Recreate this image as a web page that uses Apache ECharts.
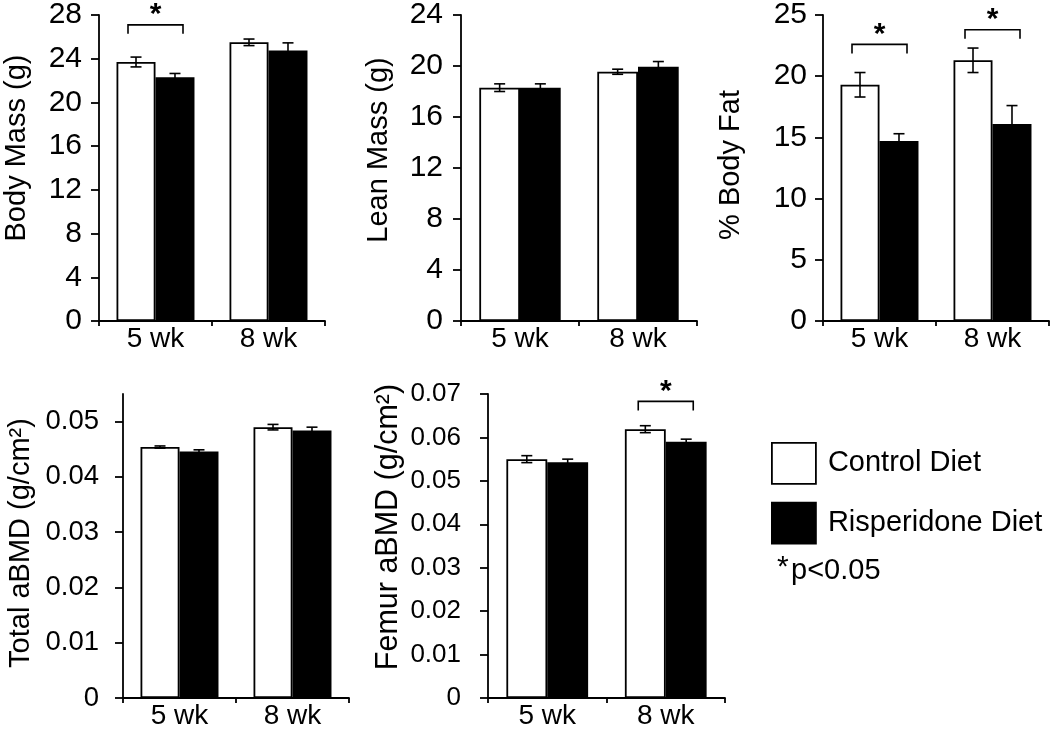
<!DOCTYPE html>
<html>
<head>
<meta charset="utf-8">
<script src="https://cdn.jsdelivr.net/npm/echarts@6/dist/echarts.min.js"></script>
<style>
  html, body { margin: 0; padding: 0; background: #fff; }
  #main { width: 1050px; height: 730px; }
</style>
</head>
<body>
<div id="main"></div>
<script>
// ---- data ----
const weeks = ["5 wk", "8 wk"];

const bodyMassCtrl = [23.7, 25.5];
const bodyMassCtrlErr = [0.45, 0.3];
const bodyMassRisp = [22.3, 24.75];
const bodyMassRispErr = [0.35, 0.7];
const bodyMassSig = [[0, 27.1]];

const leanCtrl = [18.3, 19.55];
const leanCtrlErr = [0.3, 0.2];
const leanRisp = [18.3, 19.95];
const leanRispErr = [0.3, 0.4];
const leanSig = [];

const fatCtrl = [19.3, 21.3];
const fatCtrlErr = [1.0, 1.0];
const fatRisp = [14.7, 16.1];
const fatRispErr = [0.6, 1.5];
const fatSig = [[0, 22.6], [1, 23.8]];

const totalCtrl = [0.0454, 0.0490];
const totalCtrlErr = [0.0002, 0.0005];
const totalRisp = [0.0446, 0.0484];
const totalRispErr = [0.0003, 0.0006];
const totalSig = [];

const femurCtrl = [0.0550, 0.0619];
const femurCtrlErr = [0.0008, 0.0008];
const femurRisp = [0.0543, 0.0590];
const femurRispErr = [0.0007, 0.0006];
const femurSig = [[1, 0.0683]];

const bodyMassTicks = [0, 4, 8, 12, 16, 20, 24, 28];
const leanTicks = [0, 4, 8, 12, 16, 20, 24];
const fatTicks = [0, 5, 10, 15, 20, 25];
const totalTicks = [0, 0.01, 0.02, 0.03, 0.04, 0.05];
const femurTicks = [0, 0.01, 0.02, 0.03, 0.04, 0.05, 0.06, 0.07];

const seriesNames = ["Control Diet", "Risperidone Diet"];

// ---- layout ----
const FONT = "Liberation Sans, Arial, sans-serif";
const BAR_FRAC = 0.345;

const panels = [
  { title: "Body Mass (g)", ctrl: bodyMassCtrl, ctrlErr: bodyMassCtrlErr, risp: bodyMassRisp, rispErr: bodyMassRispErr, sig: bodyMassSig, ticks: bodyMassTicks, max: 28,
    grid: { left: 99, top: 14, width: 226, height: 307 }, nameGap: 68, shift: 20, labelMargin: 17, labelSize: 30, titleSize: 29 },
  { title: "Lean Mass (g)", ctrl: leanCtrl, ctrlErr: leanCtrlErr, risp: leanRisp, rispErr: leanRispErr, sig: leanSig, ticks: leanTicks, max: 24,
    grid: { left: 461, top: 14, width: 236, height: 307 }, nameGap: 68, shift: 18, labelMargin: 18, labelSize: 30, titleSize: 29 },
  { title: "% Body Fat", ctrl: fatCtrl, ctrlErr: fatCtrlErr, risp: fatRisp, rispErr: fatRispErr, sig: fatSig, ticks: fatTicks, max: 25,
    grid: { left: 823, top: 14, width: 226, height: 307 }, nameGap: 78, shift: 3, labelMargin: 16, labelSize: 30, titleSize: 29 },
  { title: "Total aBMD (g/cm²)", ctrl: totalCtrl, ctrlErr: totalCtrlErr, risp: totalRisp, rispErr: totalRispErr, sig: totalSig, ticks: totalTicks, max: 0.055,
    grid: { left: 123, top: 394, width: 226, height: 306 }, nameGap: 88, shift: 3, labelMargin: 24, labelSize: 27.5, titleSize: 29 },
  { title: "Femur aBMD (g/cm²)", ctrl: femurCtrl, ctrlErr: femurCtrlErr, risp: femurRisp, rispErr: femurRispErr, sig: femurSig, ticks: femurTicks, max: 0.07,
    grid: { left: 488, top: 394, width: 237, height: 306 }, nameGap: 84, shift: 19, labelMargin: 27, labelSize: 26, titleSize: 30.5 }
];

// error bar drawer, side = -1 for control (left bar), +1 for risperidone (right bar)
function errorBars(side) {
  return function (params, api) {
    const cat = api.value(0), v = api.value(1), e = api.value(2);
    const band = api.size([1, 0])[0];
    const cx = api.coord([cat, v])[0] + side * band * BAR_FRAC / 2;
    const hi = api.coord([cat, v + e])[1];
    const lo = api.coord([cat, v - e])[1];
    const cap = 5.5;
    const st = { stroke: "#000", lineWidth: 1.6 };
    return {
      type: "group",
      children: [
        { type: "line", shape: { x1: cx, y1: hi, x2: cx, y2: lo }, style: st },
        { type: "line", shape: { x1: cx - cap, y1: hi, x2: cx + cap, y2: hi }, style: st },
        { type: "line", shape: { x1: cx - cap, y1: lo, x2: cx + cap, y2: lo }, style: st }
      ]
    };
  };
}

// significance bracket with star
function sigBracket(params, api) {
  const cat = api.value(0), y = api.value(1);
  const p = api.coord([cat, y]);
  const half = 27.5, leg = 9;
  const st = { stroke: "#000", lineWidth: 1.6, fill: null };
  return {
    type: "group",
    children: [
      { type: "polyline", shape: { points: [[p[0] - half, p[1] + leg], [p[0] - half, p[1]], [p[0] + half, p[1]], [p[0] + half, p[1] + leg]] }, style: st },
      { type: "text", style: { text: "*", x: p[0], y: p[1] + 5, align: "center", verticalAlign: "bottom", font: "bold 30px " + FONT, fill: "#000" } }
    ]
  };
}

const grids = [], xAxes = [], yAxes = [], series = [];
panels.forEach((pn, i) => {
  grids.push(Object.assign({ containLabel: false }, pn.grid));
  xAxes.push({
    type: "category", gridIndex: i, data: weeks,
    axisLine: { lineStyle: { color: "#000", width: 1.8 } },
    axisTick: { show: true, length: 5, lineStyle: { color: "#000", width: 1.8 } },
    axisLabel: { color: "#000", fontSize: 28, fontFamily: FONT, margin: 4 }
  });
  yAxes.push({
    type: "value", gridIndex: i, min: 0, max: pn.max, interval: pn.ticks[1],
    name: pn.title, nameLocation: "middle", nameGap: pn.nameGap, nameRotate: 90,
    nameTextStyle: { color: "#000", fontSize: pn.titleSize, fontFamily: FONT, padding: [0, 0, 0, pn.shift * 2] },
    splitLine: { show: false },
    axisLine: { show: true, lineStyle: { color: "#000", width: 1.8 } },
    axisTick: { show: true, length: 8, customValues: pn.ticks, lineStyle: { color: "#000", width: 1.8 } },
    axisLabel: { color: "#000", fontSize: pn.labelSize, fontFamily: FONT, margin: pn.labelMargin, customValues: pn.ticks }
  });
  series.push({
    name: seriesNames[0], type: "bar", xAxisIndex: i, yAxisIndex: i,
    data: pn.ctrl, barWidth: (BAR_FRAC * 100) + "%", barGap: "0%",
    itemStyle: { color: "#fff", borderColor: "#000", borderWidth: 1.8 }
  });
  series.push({
    name: seriesNames[1], type: "bar", xAxisIndex: i, yAxisIndex: i,
    data: pn.risp, barWidth: (BAR_FRAC * 100) + "%", barGap: "0%",
    itemStyle: { color: "#000", borderColor: "#000", borderWidth: 1.8 }
  });
  series.push({
    type: "custom", xAxisIndex: i, yAxisIndex: i, renderItem: errorBars(-1), z: 5,
    data: pn.ctrl.map((v, k) => [k, v, pn.ctrlErr[k]])
  });
  series.push({
    type: "custom", xAxisIndex: i, yAxisIndex: i, renderItem: errorBars(1), z: 5,
    data: pn.risp.map((v, k) => [k, v, pn.rispErr[k]])
  });
  if (pn.sig.length) {
    series.push({
      type: "custom", xAxisIndex: i, yAxisIndex: i, renderItem: sigBracket, z: 5, clip: false,
      data: pn.sig
    });
  }
});

const chart = echarts.init(document.getElementById("main"), null, { renderer: "canvas" });
chart.setOption({
  animation: false,
  backgroundColor: "#fff",
  textStyle: { fontFamily: FONT },
  grid: grids,
  xAxis: xAxes,
  yAxis: yAxes,
  legend: {
    data: [
      { name: seriesNames[0], itemStyle: { color: "#fff", borderColor: "#000", borderWidth: 1.8 } },
      { name: seriesNames[1], itemStyle: { color: "#000", borderColor: "#000", borderWidth: 1.8 } }
    ],
    orient: "vertical", left: 771, top: 442, padding: 0,
    icon: "rect", itemWidth: 44, itemHeight: 41, itemGap: 17,
    selectedMode: false,
    textStyle: { color: "#000", fontSize: 29, fontFamily: FONT, padding: [0, 0, 0, 7] }
  },
  graphic: [
    { type: "text", left: 777, top: 553, style: { text: "*", font: "30px " + FONT, fill: "#000" } },
    { type: "text", left: 791, top: 556, style: { text: "p<0.05", font: "29px " + FONT, fill: "#000" } }
  ],
  series: series
});
</script>
</body>
</html>
